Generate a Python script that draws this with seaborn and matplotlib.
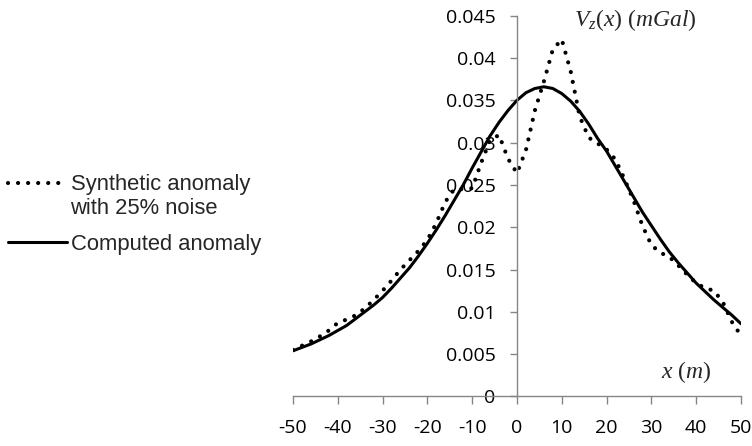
import matplotlib
matplotlib.use("Agg")
import pandas as pd
import seaborn as sns
import matplotlib.pyplot as plt
from matplotlib.lines import Line2D

# synthetic anomaly (with noise), every 2 m
x_noisy = list(range(-50, 51, 2))
v_noisy = [0.0055, 0.0060, 0.0065, 0.0071, 0.0078, 0.0087, 0.0091, 0.0096,
           0.0104, 0.0114, 0.0125, 0.0137, 0.0150, 0.0161, 0.0172, 0.0185,
           0.0205, 0.0230, 0.0245, 0.0245, 0.0246, 0.0276, 0.0303, 0.0309,
           0.0281, 0.0264, 0.0291, 0.0338, 0.0372, 0.0410, 0.0422, 0.0384,
           0.0331, 0.0306, 0.0299, 0.0292, 0.0280, 0.0257, 0.0232, 0.0202,
           0.0179, 0.0170, 0.0165, 0.0155, 0.0144, 0.0134, 0.0128, 0.0125,
           0.0111, 0.0088, 0.0072]

# computed anomaly
x_calc = list(range(-50, 51, 2))
v_calc = [0.0054, 0.0058, 0.0062, 0.0067, 0.0072, 0.0078, 0.0084, 0.0092,
          0.0100, 0.0108, 0.0117, 0.0128, 0.0140, 0.0152, 0.0166, 0.0181,
          0.0197, 0.0214, 0.0232, 0.0250, 0.0270, 0.0289, 0.0308, 0.0324,
          0.0338, 0.0350, 0.0359, 0.0364, 0.0366, 0.0364, 0.0358, 0.0349,
          0.0337, 0.0322, 0.0305, 0.0290, 0.0272, 0.0254, 0.0236, 0.0218,
          0.0202, 0.0186, 0.0171, 0.0158, 0.0146, 0.0134, 0.0124, 0.0114,
          0.0105, 0.0096, 0.0086]

x_ticks = [-50, -40, -30, -20, -10, 0, 10, 20, 30, 40, 50]
y_ticks = [0, 0.005, 0.01, 0.015, 0.02, 0.025, 0.03, 0.035, 0.04, 0.045]
y_tick_labels = ["0", "0.005", "0.01", "0.015", "0.02", "0.025", "0.03",
                 "0.035", "0.04", "0.045"]

noisy_label = "Synthetic anomaly"
noisy_label2 = "with 25% noise"
calc_label = "Computed anomaly"

sns.set_theme(style="white")
plt.rcParams["font.family"] = ["Open Sans", "DejaVu Sans"]
plt.rcParams["axes.unicode_minus"] = False
plt.rcParams["mathtext.fontset"] = "custom"
plt.rcParams["mathtext.rm"] = "Liberation Serif"
plt.rcParams["mathtext.it"] = "Liberation Serif:italic"

fig = plt.figure(figsize=(7.52, 4.46), dpi=100)
ax = fig.add_axes([0.3896, 0.111, 0.5957, 0.8538])

df_noisy = pd.DataFrame({"x": x_noisy, "v": v_noisy})
df_calc = pd.DataFrame({"x": x_calc, "v": v_calc})

sns.lineplot(data=df_noisy, x="x", y="v", ax=ax, color="black", linewidth=3,
             linestyle=(0, (0.01, 2.4)), dash_capstyle="round",
             label=noisy_label)
sns.lineplot(data=df_calc, x="x", y="v", ax=ax, color="black",
             linewidth=2.2, label=calc_label)
if ax.get_legend() is not None:
    ax.get_legend().remove()

ax.set_xlim(-50, 50)
ax.set_ylim(0, 0.045)
ax.set_xticks(x_ticks)
ax.set_yticks(y_ticks)
ax.set_yticklabels(y_tick_labels)
ax.set_xlabel("")
ax.set_ylabel("")

# axes cross at the origin, like the original
sns.despine(ax=ax)
ax.spines["left"].set_position(("data", 0))
for side in ["left", "bottom"]:
    ax.spines[side].set_color("#868686")
    ax.spines[side].set_linewidth(1)
ax.tick_params(axis="both", direction="out", color="#868686", width=1,
               labelcolor="black", labelsize=14, left=True, bottom=True)
ax.tick_params(axis="y", length=5.3, pad=10)
ax.tick_params(axis="x", length=6, pad=10.5)

ax.text(26.5, 0.0445, r"$V_z(x)\ (mGal)$", fontsize=17, ha="center",
        va="center")
ax.text(37.7, 0.0029, r"$x\ (m)$", fontsize=17, ha="center", va="center")

handles, labels = ax.get_legend_handles_labels()
blank = Line2D([], [], color="none")
leg_kw = dict(loc="upper left", frameon=False,
              prop={"family": "Liberation Sans", "size": 15.8},
              handlelength=2.7, handletextpad=0.15, labelspacing=0.14,
              borderpad=0, borderaxespad=0)
fig.legend([handles[0], blank], [noisy_label, noisy_label2],
           bbox_to_anchor=(0.0106, 0.609), **leg_kw)
fig.legend([handles[1]], [calc_label], bbox_to_anchor=(0.0106, 0.476),
           **leg_kw)

fig.savefig("out.png", dpi=100)
